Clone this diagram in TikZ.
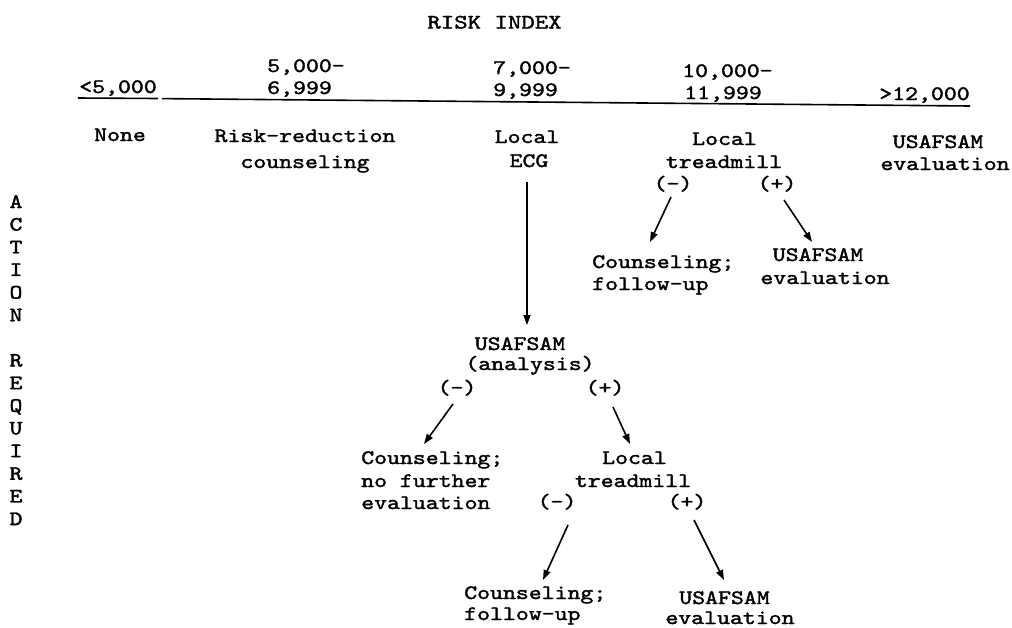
\documentclass[tikz,border=0pt]{standalone}
\usepackage{fontspec}
\newfontfamily\typewriter{lmmono10-regular.otf}[FakeBold=1.5]
\usetikzlibrary{arrows.meta}
\tikzset{
  lbl/.style={font=\fontsize{20.5}{22}\selectfont\typewriter, inner sep=0pt, xscale=1.2, anchor=base},
  lbll/.style={lbl, anchor=base west},
  arr/.style={line width=1.6pt, -{Triangle[length=10pt,width=7pt]}},
  rule/.style={line width=1.6pt}
}
\begin{document}
\begin{tikzpicture}[x=1pt,y=-1pt]
\useasboundingbox (0,0) rectangle (1012,627);

% heading and risk-index ranges
\node[lbl, xscale=1.04] (title) at (494.5,28.5) {RISK INDEX};
\node[lbl]  (lt5)  at (118,93)  {<5,000};
\node[lbll] (r2a)  at (267,72)  {5,000-};
\node[lbll] (r2b)  at (267,94)  {6,999};
\node[lbll] (r3a)  at (493,74)  {7,000-};
\node[lbll] (r3b)  at (493,96)  {9,999};
\node[lbll] (r4a)  at (682,77)  {10,000-};
\node[lbll] (r4b)  at (684,99) {11,999};
\node[lbl]  (gt12) at (924.5,100) {>12,000};
\draw[rule] (78,98) -- (158,98.5);
\draw[rule] (162,98.6) -- (970,106);

% side caption
\foreach \ch [count=\i from 0] in {A,C,T,I,O,N}
  \node[lbl] (act\i) at (16,208+22.65*\i) {\ch};
\foreach \ch [count=\i from 7] in {R,E,Q,U,I,R,E,D}
  \node[lbl] (req\i) at (16,208+22.65*\i) {\ch};

% actions per range
\node[lbl] (none) at (120,141) {None};
\node[lbl] (rr1) at (305,142) {Risk-reduction};
\node[lbl] (rr2) at (305,168) {counseling};
\node[lbl] (ecg1) at (527,143) {Local};
\node[lbl] (ecg2) at (529,167) {ECG};
\node[lbl] (tm1) at (724.5,145) {Local};
\node[lbl] (tm2) at (724,168) {treadmill};
\node[lbl] (tmneg) at (673,190) {(-)};
\node[lbl] (tmpos) at (777,190) {(+)};
\node[lbl] (ev1) at (938,148) {USAFSAM};
\node[lbl] (ev2) at (945,170) {evaluation};

% treadmill outcomes
\node[lbll] (cf1) at (592,268) {Counseling;};
\node[lbll] (cf2) at (592,290) {follow-up};
\node[lbl] (ue1) at (818,261) {USAFSAM};
\node[lbl] (ue2) at (825,284) {evaluation};

% ECG analysis branch
\node[lbl] (an1) at (520,350) {USAFSAM};
\node[lbl] (an2) at (530,370) {(analysis)};
\node[lbl] (anneg) at (457,394) {(-)};
\node[lbl] (anpos) at (605,394) {(+)};
\node[lbll] (nf1) at (361,464) {Counseling;};
\node[lbll] (nf2) at (361,487) {no further};
\node[lbll] (nf3) at (361,509) {evaluation};
\node[lbl] (lt1) at (634.5,464) {Local};
\node[lbl] (lt2) at (633,487) {treadmill};
\node[lbl] (ltneg) at (557,508) {(-)};
\node[lbl] (ltpos) at (687,508) {(+)};
\node[lbll] (cb1) at (464,599) {Counseling;};
\node[lbll] (cb2) at (464,620) {follow-up};
\node[lbl] (ub1) at (724.5,604) {USAFSAM};
\node[lbl] (ub2) at (730,624) {evaluation};

% connectors
\draw[arr] ([shift={(-2,15)}]ecg2.base) -- ([shift={(7,-25)}]an1.base);
\draw[arr] ([shift={(-2,7)}]tmneg.base) -- ([shift={(58,-26)}]cf1.base west);
\draw[arr] ([shift={(7,10)}]tmpos.base) -- ([shift={(-6,-19)}]ue1.base);
\draw[arr] ([shift={(-4,10)}]anneg.base) -- ([shift={(63,-20)}]nf1.base west);
\draw[arr] ([shift={(8,13)}]anpos.base) -- ([shift={(-4.5,-20)}]lt1.base);
\draw[arr] ([shift={(11,17)}]ltneg.base) -- ([shift={(79,-19)}]cb1.base west);
\draw[arr] ([shift={(7,12)}]ltpos.base) -- ([shift={(-0.5,-24)}]ub1.base);
\end{tikzpicture}
\end{document}
